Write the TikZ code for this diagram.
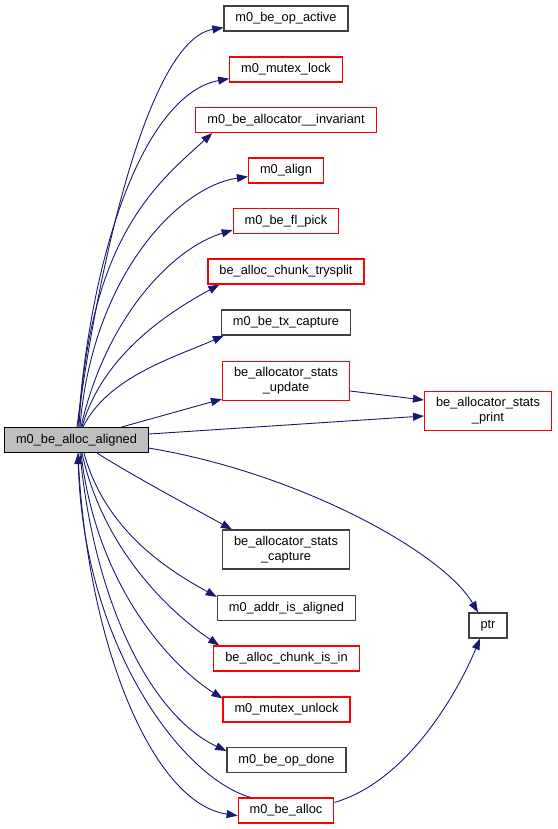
\documentclass[tikz,border=0pt]{standalone}
\usepackage{fontspec}
\setmainfont{Liberation Sans}
\usepackage{tikz}
\usetikzlibrary{arrows.meta,positioning}
\definecolor{edgeBlue}{RGB}{25,25,112}
\definecolor{boxGrey}{RGB}{191,191,191}
\definecolor{boxDark}{RGB}{64,64,64}
\tikzstyle{nBase}=[rectangle,inner xsep=11.5pt,inner ysep=6pt,minimum height=25pt,line width=1.2pt,font=\fontsize{12.8}{15}\selectfont,align=center]
\tikzstyle{nMain}=[nBase,draw=black,fill=boxGrey]
\tikzstyle{nBlack}=[nBase,draw=boxDark]
\tikzstyle{nRed}=[nBase,draw=red]
\tikzstyle{eCall}=[draw=edgeBlue,line width=0.9pt,-{Triangle[length=11pt,width=8pt]}]

\begin{document}
\begin{tikzpicture}[x=1pt,y=-1pt]
                \useasboundingbox (0,0) rectangle (557,829);

                \draw (76.5,440) node[nMain] (main) {m0\_be\_alloc\_aligned};

                \draw (286,18.5) node[nBlack] (opActive) {m0\_be\_op\_active};
                \draw (286,69.5) node[nRed] (mutexLock) {m0\_mutex\_lock};
                \draw (286,120) node[nRed] (invariant) {m0\_be\_allocator\_\_invariant};
                \draw (286,170.5) node[nRed] (align) {m0\_align};
                \draw (286,221) node[nRed] (flPick) {m0\_be\_fl\_pick};
                \draw (286,271.5) node[nRed] (trysplit) {be\_alloc\_chunk\_trysplit};
                \draw (286,322.5) node[nBlack] (txCapture) {m0\_be\_tx\_capture};
                \draw (286,381) node[nRed] (statsUpdate) {be\_allocator\_stats\\\_update};
                \draw (488,411) node[nRed] (statsPrint) {be\_allocator\_stats\\\_print};
                \draw (286,549.5) node[nBlack] (statsCapture) {be\_allocator\_stats\\\_capture};
                \draw (286.5,608) node[nBlack] (addrAligned) {m0\_addr\_is\_aligned};
                \draw (286.5,658.5) node[nRed] (chunkIsIn) {be\_alloc\_chunk\_is\_in};
                \draw (286.5,709.5) node[nRed] (mutexUnlock) {m0\_mutex\_unlock};
                \draw (286.5,760) node[nBlack] (opDone) {m0\_be\_op\_done};
                \draw (286,810.5) node[nRed] (beAlloc) {m0\_be\_alloc};
                \draw (488,625.5) node[nBlack] (ptr) {ptr};

                % calls above
                \draw[eCall] ([xshift=0.5pt]main.north) .. controls +(24,-180) and +(-72,12) .. ([yshift=4pt]opActive.south west);
                \draw[eCall] ([xshift=1.5pt]main.north) .. controls +(14,-190) and +(-80,15) .. ([yshift=4pt]mutexLock.south west);
                \draw[eCall] ([xshift=2.5pt]main.north) .. controls +(10,-190) and +(-55,50) .. ([xshift=17pt]invariant.south west);
                \draw[eCall] ([xshift=3.5pt]main.north) .. controls +(12,-150) and +(-70,10) .. ([yshift=7pt]align.south west);
                \draw[eCall] ([xshift=4.5pt]main.north) .. controls +(25,-110) and +(-60,18) .. ([yshift=4pt]flPick.south west);
                \draw[eCall] ([xshift=5.5pt]main.north) .. controls +(20,-70) and +(-55,30) .. ([xshift=12pt]trysplit.south west);
                \draw[eCall] ([xshift=6.5pt]main.north) .. controls +(25,-50) and +(-50,22) .. ([xshift=3pt]txCapture.south west);
                \path
                    ([xshift=45.5pt]main.north) edge[eCall] ([yshift=2pt]statsUpdate.south west)
                    ([yshift=-10pt]statsUpdate.east) edge[eCall] ([yshift=11pt]statsPrint.west)
                    ([yshift=6pt]main.east) edge[eCall] ([yshift=-5pt]statsPrint.west)
                ;

                % calls below
                \draw[eCall] ([xshift=20.5pt]main.south) .. controls +(40,25) and +(-40,-22) .. ([xshift=10pt]statsCapture.north west);
                \draw[eCall] ([xshift=7.5pt]main.south) .. controls +(22,80) and +(-45,-25) .. ([yshift=-2pt]addrAligned.north west);
                \draw[eCall] ([xshift=5.5pt]main.south) .. controls +(22,100) and +(-45,-30) .. ([xshift=6pt]chunkIsIn.north west);
                \draw[eCall] ([xshift=4.5pt]main.south) .. controls +(15,130) and +(-55,-35) .. ([yshift=-2pt]mutexUnlock.north west);
                \draw[eCall] ([xshift=3.5pt]main.south) .. controls +(14,150) and +(-75,-35) .. ([yshift=-4pt]opDone.north west);
                \draw[eCall] ([xshift=1.5pt]main.south) .. controls +(8,190) and +(-85,-12) .. ([yshift=8pt]beAlloc.south west);
                \draw[eCall] ([xshift=13pt]beAlloc.north west) .. controls +(-70,-20) and +(5,190) .. ([xshift=1.5pt]main.south);

                % calls to ptr
                \draw[eCall] ([yshift=5pt]main.south east) .. controls +(150,25) and +(-35,-60) .. ([xshift=-10pt]ptr.north);
                \draw[eCall] ([yshift=-5pt]beAlloc.north east) .. controls +(70,-20) and +(-25,60) .. ([xshift=-8pt]ptr.south);

\end{tikzpicture}
\end{document}
